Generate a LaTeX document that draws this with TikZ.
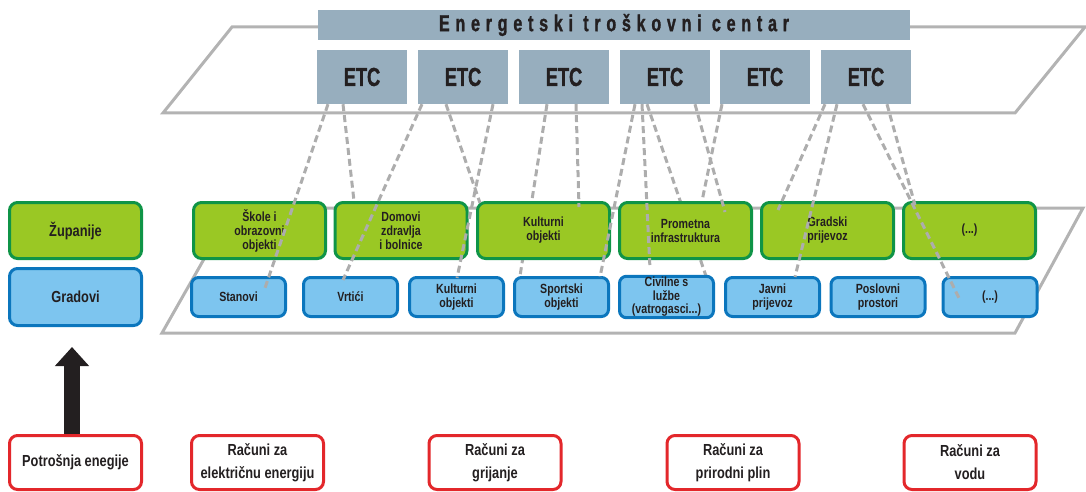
\documentclass[tikz,border=0pt]{standalone}
\usepackage{fontspec}
\setmainfont{Liberation Sans}[FakeStretch=0.8]
\newfontfamily\etcfont{Liberation Sans Bold}[FakeStretch=0.7,FakeBold=1.2]
\usetikzlibrary{arrows.meta}
\definecolor{etcblue}{HTML}{97AEBE}
\definecolor{gfill}{HTML}{9AC824}
\definecolor{gdraw}{HTML}{0F9447}
\definecolor{bfill}{HTML}{7DC5EF}
\definecolor{bdraw}{HTML}{0B76BD}
\definecolor{rdraw}{HTML}{E3272B}
\definecolor{txt}{HTML}{231F20}
\definecolor{plane}{HTML}{B3B3B3}
\definecolor{dashgray}{HTML}{ADADAD}
\begin{document}
\begin{tikzpicture}[x=1pt,y=-1pt,
  planeline/.style={draw=plane,line width=3pt},
  hdrbox/.style={fill=etcblue,minimum width=592pt,minimum height=30pt,inner sep=0pt,text=txt,
    font=\etcfont\fontsize{23}{23}\selectfont\addfontfeature{LetterSpace=25}},
  etcbox/.style={fill=etcblue,minimum width=90pt,minimum height=54pt,inner sep=0pt,text=txt,
    font=\etcfont\fontsize{26}{26}\selectfont},
  gbox/.style={draw=gdraw,fill=gfill,line width=3pt,rounded corners=8pt,minimum width=132pt,
    minimum height=56pt,align=center,text=txt,inner sep=1pt,
    font=\bfseries\fontsize{13.3}{14}\selectfont},
  bbox/.style={draw=bdraw,fill=bfill,line width=3pt,rounded corners=7pt,minimum width=94pt,
    minimum height=39pt,align=center,text=txt,inner sep=1pt,
    font=\bfseries\fontsize{13.3}{13.5}\selectfont},
  legg/.style={gbox,font=\bfseries\fontsize{16}{18}\selectfont},
  legb/.style={bbox,minimum width=132pt,minimum height=57pt,rounded corners=8pt,font=\bfseries\fontsize{16}{18}\selectfont},
  rbox/.style={draw=rdraw,fill=white,line width=3pt,rounded corners=8pt,minimum width=132pt,
    minimum height=54pt,align=center,text=txt,inner sep=1pt,
    font=\bfseries\fontsize{16}{23}\selectfont},
  dl/.style={draw=dashgray,line width=3pt,dash pattern=on 7pt off 4pt}
]
\useasboundingbox (0,0) rectangle (1086,492);
% planes
\draw[planeline] (232,27) -- (1085,27) -- (1015,113) -- (163,113) -- cycle;
\draw[planeline] (233,208) -- (1083,208) -- (1015,333) -- (162,333) -- cycle;
% header and ETC boxes
\node[hdrbox] (hdr) at (614,25) {Energetski troškovni centar};
\node[etcbox] (E1) at (362,77) {ETC};
\node[etcbox] (E2) at (463,77) {ETC};
\node[etcbox] (E3) at (564,77) {ETC};
\node[etcbox] (E4) at (665,77) {ETC};
\node[etcbox] (E5) at (765,77) {ETC};
\node[etcbox] (E6) at (866,77) {ETC};
% lines hidden behind the green boxes
\coordinate (B4top) at (520,276);
\coordinate (B5top) at (706,276);
\draw[dl] ([xshift=-17pt]E3.south) -- (B4top);
\draw[dl] ([xshift=-18pt]E4.south) -- (B5top);
% green boxes
\node[gbox] (G1) at (259.5,230.5) {Škole i\\obrazovni\\objekti};
\node[gbox] (G2) at (401,230.5) {Domovi\\zdravlja\\i bolnice};
\node[gbox] (G3) at (543.5,230.5) {Kulturni\\objekti};
\node[gbox] (G4) at (685.5,230.5) {Prometna\\infrastruktura};
\node[gbox] (G5) at (827.5,230.5) {Gradski\\prijevoz};
\node[gbox] (G6) at (969.5,230.5) {(...)};
% blue boxes
\node[bbox] (B1) at (238.5,297) {Stanovi};
\node[bbox] (B2) at (350.5,297) {Vrtići};
\node[bbox] (B3) at (456.5,297) {Kulturni\\objekti};
\node[bbox] (B4) at (561.5,297) {Sportski\\objekti};
\node[bbox] (B5) at (666.5,297) {Civilne s\\lužbe\\(vatrogasci...)};
\node[bbox] (B6) at (772.5,297) {Javni\\prijevoz};
\node[bbox] (B7) at (878,297) {Poslovni\\prostori};
\node[bbox] (B8) at (990,297) {(...)};
% front dashed lines
\draw[dl] ([xshift=-34pt]E1.south) -- ([xshift=26.5pt,yshift=9pt]B1.center);
\draw[dl] ([xshift=-19pt]E1.south) -- ([xshift=-47pt]G2.north);
\draw[dl] ([xshift=-41pt]E2.south) -- ([xshift=-7.5pt,yshift=17pt]B2.center);
\draw[dl] ([xshift=-17pt]E2.south) -- ([xshift=-63.5pt,yshift=-2pt]G3.north);
\draw[dl] ([xshift=30pt]E2.south) -- ([xshift=0.5pt,yshift=19pt]B3.center);
\draw[dl] ([xshift=12pt]E3.south) -- ([xshift=35.5pt,yshift=-6pt]G3.north);
\draw[dl] ([xshift=-30pt]E4.south) -- ([xshift=38.5pt,yshift=20pt]B4.center);
\draw[dl] ([xshift=-23pt]E4.south) -- ([xshift=-16.5pt,yshift=6pt]B5.north);
\draw[dl] ([xshift=-70pt]E5.south) -- ([xshift=39.5pt,yshift=-11pt]G4.north);
\draw[dl] ([xshift=-43pt]E5.south) -- ([xshift=16.5pt]G4.north);
\draw[dl] ([xshift=-41pt]E6.south) -- ([xshift=-49.5pt,yshift=-9pt]G5.north);
\draw[dl] ([xshift=-29pt]E6.south) -- ([xshift=22.5pt,yshift=20pt]B6.center);
\draw[dl] ([xshift=-3pt]E6.south) -- ([xshift=-30pt,yshift=-3pt]B8.center);
\draw[dl] ([xshift=21pt]E6.south) -- ([xshift=-54.5pt,yshift=-4pt]G6.north);
% legend
\node[legg] (zup) at (75.5,230.5) {Županije};
\node[legb] (grad) at (75.5,297) {Gradovi};
% bottom red boxes
\node[rbox] (R1) at (75.5,462.5) {Potrošnja enegije};
\node[rbox] (R2) at (257.5,462.5) {Računi za\\električnu energiju};
\node[rbox] (R3) at (495,462.5) {Računi za\\grijanje};
\node[rbox] (R4) at (733,462.5) {Računi za\\prirodni plin};
\node[rbox] (R5) at (970,462.5) {Računi za\\vodu};
% arrow
\coordinate (tip) at (72,347);
\draw[draw=txt,line width=16pt,-{Triangle[width=33pt,length=19pt]}] ([xshift=-3.5pt]R1.north) -- (tip);
\end{tikzpicture}
\end{document}
